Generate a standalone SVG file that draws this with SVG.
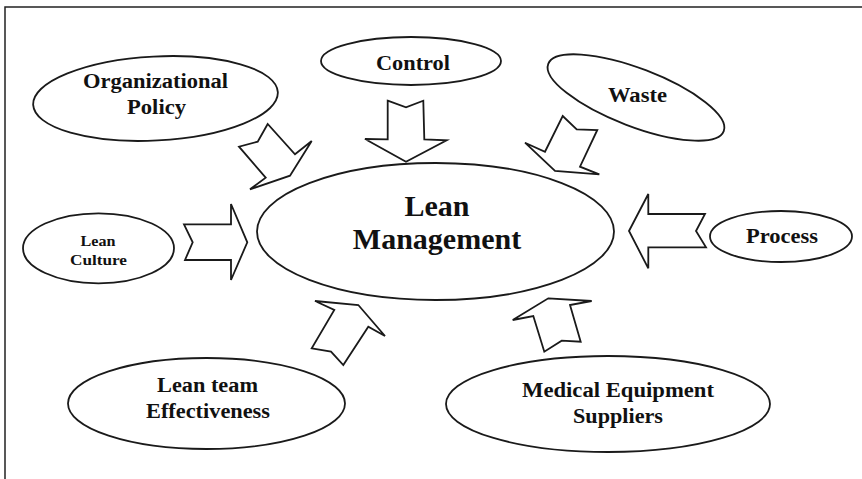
<svg xmlns="http://www.w3.org/2000/svg" width="862" height="479" viewBox="0 0 862 479">
  <style>
    .node ellipse { fill: #ffffff; stroke: #1a1a1a; stroke-width: 1.8; }
    .node text { font-family: "Liberation Serif", "Times New Roman", serif; font-weight: bold; fill: #111111; text-anchor: middle; }
    .arrows polygon { fill: #ffffff; stroke: #1a1a1a; stroke-width: 1.8; stroke-linejoin: miter; }
    .frame { fill: none; stroke: #222222; stroke-width: 1.5; }
  </style>
  <rect width="862" height="479" fill="#ffffff"/>
  <!-- page frame -->
  <path class="frame" d="M5,479 V7 H862"/>

  <g id="lean-management" class="node">
    <ellipse cx="435.5" cy="231.5" rx="178.5" ry="68.5"/>
    <text x="437" y="216" font-size="30">Lean</text>
    <text x="437" y="249" font-size="30">Management</text>
  </g>

  <g id="organizational-policy" class="node">
    <ellipse cx="155.5" cy="98.5" rx="122.5" ry="42" transform="rotate(-3 155.5 98.5)"/>
    <text x="155.5" y="88" font-size="20" textLength="145" lengthAdjust="spacingAndGlyphs">Organizational</text>
    <text x="156.5" y="114" font-size="20" textLength="59" lengthAdjust="spacingAndGlyphs">Policy</text>
  </g>

  <g id="control" class="node">
    <ellipse cx="411" cy="61" rx="90" ry="24"/>
    <text x="413" y="70" font-size="20" textLength="74" lengthAdjust="spacingAndGlyphs">Control</text>
  </g>

  <g id="waste" class="node">
    <ellipse cx="636" cy="97.5" rx="94" ry="29" transform="rotate(21 636 97.5)"/>
    <text x="637.5" y="102" font-size="20" textLength="59" lengthAdjust="spacingAndGlyphs">Waste</text>
  </g>

  <g id="lean-culture" class="node">
    <ellipse cx="98.5" cy="248.3" rx="75.5" ry="35"/>
    <text x="98" y="246" font-size="15" textLength="35" lengthAdjust="spacingAndGlyphs">Lean</text>
    <text x="98.5" y="265" font-size="15" textLength="57" lengthAdjust="spacingAndGlyphs">Culture</text>
  </g>

  <g id="process" class="node">
    <ellipse cx="781" cy="236.5" rx="71" ry="25.5"/>
    <text x="782" y="243" font-size="20" textLength="72" lengthAdjust="spacingAndGlyphs">Process</text>
  </g>

  <g id="lean-team-effectiveness" class="node">
    <ellipse cx="206.5" cy="403.5" rx="138.5" ry="45.5"/>
    <text x="207.5" y="392" font-size="20" textLength="101" lengthAdjust="spacingAndGlyphs">Lean team</text>
    <text x="208" y="418" font-size="20" textLength="124" lengthAdjust="spacingAndGlyphs">Effectiveness</text>
  </g>

  <g id="medical-equipment-suppliers" class="node">
    <ellipse cx="608" cy="404" rx="162" ry="48"/>
    <text x="618" y="397" font-size="20" textLength="192" lengthAdjust="spacingAndGlyphs">Medical Equipment</text>
    <text x="618" y="423" font-size="20" textLength="90" lengthAdjust="spacingAndGlyphs">Suppliers</text>
  </g>

  <!-- block arrows pointing at the central node -->
  <g id="connectors" class="arrows">
    <polygon points="267.7,124 257.7,141.7 239,146.7 265.7,177.7 250,189.3 290,175.7 311.7,141 295,154.3"/>
    <polygon points="387.7,100.7 406,107.3 423.3,100.7 424.3,139.3 446.7,140.3 406,161.7 365,139 387.7,139.3"/>
    <polygon points="562.7,116 576.7,129.3 597.3,130 580,166.7 599.3,174.3 555,171 525,142.7 545,151.7"/>
    <polygon points="184,224.3 192.7,242.3 185,260 231,260 231,280 247.3,242.3 231,204 231,224.3"/>
    <polygon points="629,231 648.3,194 648.3,214 705,214 696,231 706,247.3 648.3,247.3 648.3,268.3"/>
    <polygon points="315,301 358.3,305 385,336 368.3,326.7 343.3,365 331,351.7 311.7,348.3 334.3,310"/>
    <polygon points="548.3,298.3 591.7,301 570,305 580.7,341.7 561.7,340.7 544.3,351.7 533.3,316 512.7,320"/>
  </g>
</svg>
